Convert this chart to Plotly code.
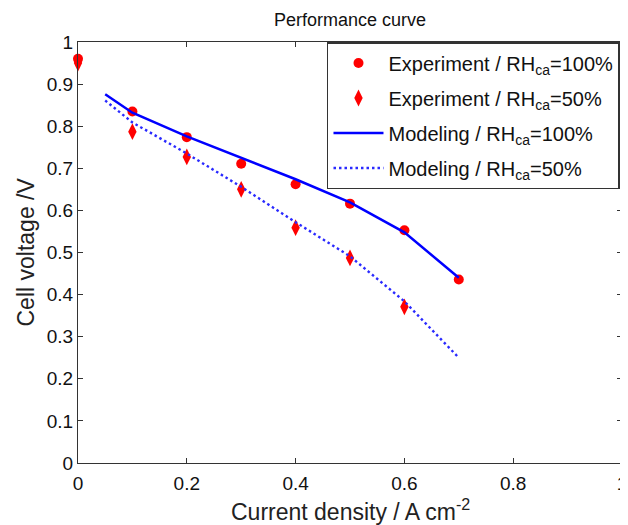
import plotly.graph_objects as go

exp_x = [0, 0.1, 0.2, 0.3, 0.4, 0.5, 0.6, 0.7]
exp100_y = [0.96, 0.835, 0.774, 0.711, 0.662, 0.616, 0.553, 0.436]

exp50_x = [0, 0.1, 0.2, 0.3, 0.4, 0.5, 0.6]
exp50_y = [0.95, 0.787, 0.727, 0.650, 0.559, 0.487, 0.371]

mod_x = [0.05, 0.1, 0.2, 0.3, 0.4, 0.5, 0.6, 0.7]
mod100_y = [0.876, 0.832, 0.776, 0.725, 0.674, 0.619, 0.548, 0.440]
mod50_y = [0.861, 0.809, 0.735, 0.656, 0.572, 0.491, 0.384, 0.25]

x_ticks = [0, 0.2, 0.4, 0.6, 0.8, 1]
y_ticks = [0, 0.1, 0.2, 0.3, 0.4, 0.5, 0.6, 0.7, 0.8, 0.9, 1]

FONT = "Liberation Sans, Arial, sans-serif"

fig = go.Figure()
fig.add_trace(go.Scatter(
    x=exp_x, y=exp100_y, mode="markers", cliponaxis=False, legendgroup="a",
    marker=dict(symbol="circle", size=10, color="#ff0000"),
    name="Experiment / RH<sub>ca</sub>=100%"))
fig.add_trace(go.Scatter(
    x=exp50_x, y=exp50_y, mode="markers", cliponaxis=False, legendgroup="b",
    marker=dict(symbol="diamond-tall", size=12, color="#ff0000"),
    name="Experiment / RH<sub>ca</sub>=50%"))
fig.add_trace(go.Scatter(
    x=mod_x, y=mod100_y, mode="lines", legendgroup="c",
    line=dict(color="#0000ff", width=2.5),
    name="Modeling / RH<sub>ca</sub>=100%"))
fig.add_trace(go.Scatter(
    x=mod_x, y=mod50_y, mode="lines", legendgroup="d",
    line=dict(color="#2a2aff", width=2.4, dash="2.5px,3px"),
    name="Modeling / RH<sub>ca</sub>=50%"))

axis_common = dict(
    showline=True, linecolor="#333333", linewidth=1.2, mirror="ticks",
    ticks="inside", ticklen=5, tickcolor="#333333", tickwidth=1,
    showgrid=False, zeroline=False, automargin=False,
    ticklabeloverflow="allow",
    tickfont=dict(family=FONT, size=19, color="#111111"),
)

fig.update_layout(
    width=620, height=517,
    margin=dict(l=70, r=6, t=34, b=62),
    paper_bgcolor="white", plot_bgcolor="white",
    font=dict(family=FONT, color="#111111"),
    title=dict(text="Performance curve", x=0.5, xref="paper", xanchor="center",
               y=1 - 12 / 517, yref="container", yanchor="middle",
               font=dict(family=FONT, size=18, color="#111111")),
    xaxis=dict(range=[0, 1], tickvals=x_ticks, ticktext=[f"{v:g}" for v in x_ticks],
               ticklabelstandoff=3, **axis_common),
    yaxis=dict(range=[0, 1], tickvals=y_ticks, ticktext=[f"{v:g}" for v in y_ticks],
               **axis_common),
    legend=dict(x=0.9963, y=1, xanchor="right", yanchor="top",
                bgcolor="white", bordercolor="#333333", borderwidth=1.5,
                font=dict(family=FONT, size=20, color="#111111"),
                tracegroupgap=6, itemwidth=50, traceorder="grouped"),
    showlegend=True,
    annotations=[
        dict(text="Cell voltage /V", xref="paper", yref="paper", x=0, y=0.5,
             xanchor="center", yanchor="middle", xshift=-53, textangle=-90,
             showarrow=False, font=dict(family=FONT, size=23, color="#222222")),
        dict(text="Current density / A cm<sup>-2</sup>", xref="paper", yref="paper",
             x=0.5, y=0, xanchor="center", yanchor="middle", yshift=-47,
             showarrow=False, font=dict(family=FONT, size=23, color="#222222")),
    ],
)

fig.write_html("out.html")
